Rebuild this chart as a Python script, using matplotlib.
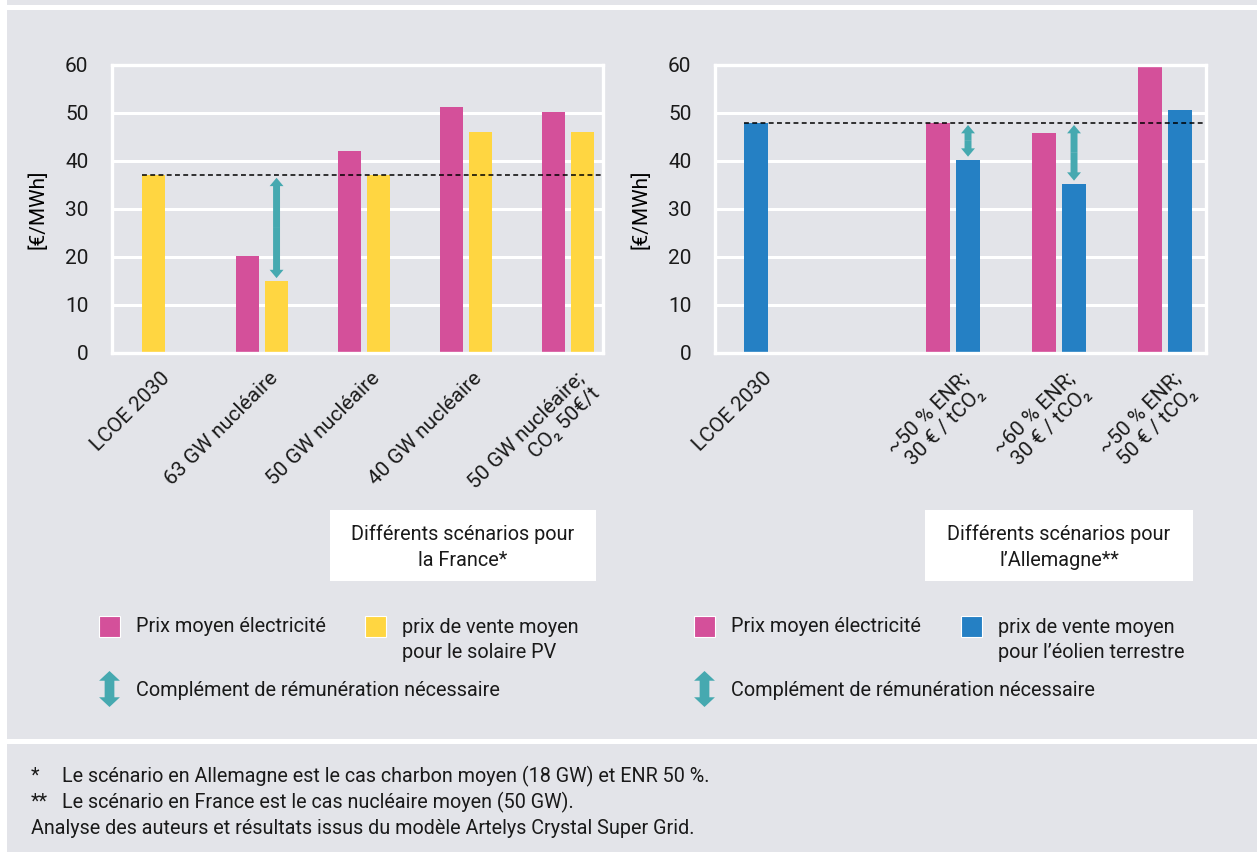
import matplotlib
matplotlib.use("Agg")
import matplotlib.pyplot as plt
from matplotlib.patches import Rectangle, FancyArrowPatch
from matplotlib.transforms import ScaledTranslation

# ---------------------------------------------------------------- data
fr_categories = ["LCOE 2030", "63 GW nucléaire", "50 GW nucléaire",
                 "40 GW nucléaire", "50 GW nucléaire;\nCO₂ 50€/t"]
fr_prix_moyen = [None, 20.3, 42.0, 51.3, 50.2]
fr_solaire_pv = [37.0, 15.0, 37.0, 46.0, 46.0]
fr_lcoe = 37.0
fr_complement = [1]          # scenarios needing a top-up up to LCOE

de_categories = ["LCOE 2030", "", "~50 % ENR;\n30 € / tCO₂",
                 "~60 % ENR;\n30 € / tCO₂", "~50 % ENR;\n50 € / tCO₂"]
de_prix_moyen = [None, None, 48.0, 45.8, 59.7]
de_eolien = [48.0, None, 40.3, 35.3, 50.7]
de_lcoe = 48.0
de_complement = [2, 3]

y_ticks = [0, 10, 20, 30, 40, 50, 60]

# ---------------------------------------------------------------- style
PINK = "#d4509a"
YELLOW = "#ffd641"
BLUE = "#2580c4"
TEAL = "#46a9b0"
PANEL = "#e3e4e9"
TEXT = "#1a1a1a"

plt.rcParams["font.family"] = ["Roboto", "DejaVu Sans"]
plt.rcParams["text.color"] = TEXT

W, H = 1257, 852
fig = plt.figure(figsize=(W / 100, H / 100), dpi=100, facecolor="white")


def fx(x):
    return x / W


def fy(y):
    return 1 - y / H


def frect(x0, y0, x1, y1, zorder=-10, **kw):
    fig.patches.append(Rectangle((fx(x0), fy(y1)), fx(x1) - fx(x0), fy(y0) - fy(y1),
                                 transform=fig.transFigure, figure=fig,
                                 zorder=zorder, **kw))


# page panels
frect(7, 0, W, 5, facecolor=PANEL, edgecolor="none")
frect(7, 10, W, 739, facecolor=PANEL, edgecolor="none")
frect(7, 744, W, H, facecolor=PANEL, edgecolor="none")

BAR_W = 0.225
OFF = 0.142
FS_TICK = 15
FS_TEXT = 14.3
FS_NOTE = 14.2


def double_arrow(ax, x, y0, y1, transform=None, tail=5, head=10, hl=6):
    tr = transform if transform is not None else ax.transData
    ym = (y0 + y1) / 2
    for ye in (y0, y1):
        p = FancyArrowPatch((x, ym), (x, ye), transform=tr,
                            arrowstyle=f"simple,head_length={hl},head_width={head},tail_width={tail}",
                            mutation_scale=1, shrinkA=0, shrinkB=0,
                            color=TEAL, lw=0, zorder=5)
        if ax is None:
            fig.patches.append(p)
        else:
            ax.add_patch(p)


def setup_axes(ax, xlim):
    ax.set_facecolor("none")
    ax.set_xlim(*xlim)
    ax.set_ylim(0, 60)
    ax.set_yticks(y_ticks)
    ax.grid(axis="y", color="white", lw=2.2, zorder=0)
    ax.set_axisbelow(True)
    for s in ax.spines.values():
        s.set_color("white")
        s.set_linewidth(2.4)
    ax.tick_params(axis="both", length=0, labelsize=FS_TICK, colors=TEXT)
    ax.tick_params(axis="y", pad=17)
    ax.set_ylabel("[€/MWh]", fontsize=FS_TICK)


def draw_panel(ax, cats, prix, vente, lcoe, complement, vente_color,
               lcoe_pos, tick_pos, xlim):
    setup_axes(ax, xlim)
    for i in range(len(cats)):
        if prix[i] is not None:
            ax.bar(i - OFF, prix[i], width=BAR_W, color=PINK, zorder=2)
        if vente[i] is not None:
            x = lcoe_pos if i == 0 else i + OFF
            ax.bar(x, vente[i], width=BAR_W, color=vente_color, zorder=2)
    ax.hlines(lcoe, lcoe_pos - BAR_W / 2, xlim[1], colors="black",
              linestyles=(0, (3.2, 2.2)), lw=1.1, zorder=4)
    for i in complement:
        double_arrow(ax, i + OFF, vente[i] + 0.6, lcoe - 0.5)
    labels = [c for c in cats if c]
    ax.set_xticks(tick_pos)
    ax.set_xticklabels(labels, rotation=45, ha="right", va="top",
                       rotation_mode="anchor", fontsize=FS_TICK,
                       multialignment="right")
    ax.tick_params(axis="x", pad=11)
    shift = ScaledTranslation(6 / 100, 0, fig.dpi_scale_trans)
    for lab in ax.get_xticklabels():
        lab.set_transform(lab.get_transform() + shift)


ax1 = fig.add_axes([fx(112), fy(353), fx(603) - fx(112), fy(65) - fy(353)])
draw_panel(ax1, fr_categories, fr_prix_moyen, fr_solaire_pv, fr_lcoe,
           fr_complement, YELLOW, lcoe_pos=-0.06,
           tick_pos=[-0.06, 1, 2, 3, 4], xlim=(-0.47, 4.34))
ax1.yaxis.set_label_coords(-0.132, 0.5)

ax2 = fig.add_axes([fx(715), fy(353), fx(1206) - fx(715), fy(65) - fy(353)])
draw_panel(ax2, de_categories, de_prix_moyen, de_eolien, de_lcoe,
           de_complement, BLUE, lcoe_pos=OFF,
           tick_pos=[OFF, 2, 3, 4], xlim=(-0.245, 4.387))
ax2.yaxis.set_label_coords(-0.132, 0.5)

# scenario caption boxes
frect(330, 510, 596, 581, facecolor="white", edgecolor="none")
fig.text(fx(463), fy(547), "Différents scénarios pour\nla France*", ha="center",
         va="center", fontsize=FS_TEXT, linespacing=1.45)
frect(925, 510, 1193, 581, facecolor="white", edgecolor="none")
fig.text(fx(1059), fy(547), "Différents scénarios pour\nl’Allemagne**", ha="center",
         va="center", fontsize=FS_TEXT, linespacing=1.45)


# legends
def legend_block(x0, x_second, second_color, second_text):
    frect(x0, 616, x0 + 21, 637, zorder=1, facecolor=PINK, edgecolor="white", lw=0.8)
    fig.text(fx(x0 + 37), fy(627), "Prix moyen électricité", ha="left",
             va="center", fontsize=FS_TEXT)
    frect(x_second, 616, x_second + 21, 637, zorder=1, facecolor=second_color,
          edgecolor="white", lw=0.8)
    fig.text(fx(x_second + 37), fy(640), second_text, ha="left", va="center",
             fontsize=FS_TEXT, linespacing=1.4)
    double_arrow(None, fx(x0 + 10.5), fy(707), fy(671), transform=fig.transFigure,
                 tail=7, head=15, hl=7)
    fig.text(fx(x0 + 37), fy(690), "Complément de rémunération nécessaire",
             ha="left", va="center", fontsize=FS_TEXT)


legend_block(99, 365, YELLOW, "prix de vente moyen\npour le solaire PV")
legend_block(694, 961, BLUE, "prix de vente moyen\npour l’éolien terrestre")

# footnotes
fig.text(fx(31), fy(776), "*", ha="left", va="center", fontsize=FS_NOTE)
fig.text(fx(62), fy(776), "Le scénario en Allemagne est le cas charbon moyen (18 GW) et ENR 50 %.",
         ha="left", va="center", fontsize=FS_NOTE)
fig.text(fx(31), fy(802), "**", ha="left", va="center", fontsize=FS_NOTE)
fig.text(fx(62), fy(802), "Le scénario en France est le cas nucléaire moyen (50 GW).",
         ha="left", va="center", fontsize=FS_NOTE)
fig.text(fx(31), fy(828), "Analyse des auteurs et résultats issus du modèle Artelys Crystal Super Grid.",
         ha="left", va="center", fontsize=FS_NOTE)

fig.savefig("out.png", dpi=100, facecolor="white")
